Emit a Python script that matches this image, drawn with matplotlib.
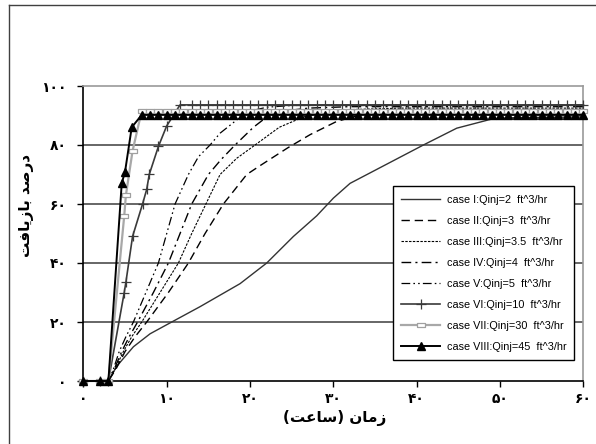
import matplotlib
matplotlib.use("Agg")
import matplotlib.pyplot as plt
from matplotlib.lines import Line2D

# ---------------- data ----------------
x_case1 = [0, 2, 3, 4, 6, 8, 10.6, 14, 18.8, 22, 25.2, 28, 30, 32, 36.4, 40.8, 44.8, 49, 52, 60]
y_case1 = [0, 0, 0, 5, 11.6, 16, 20, 25.2, 33, 40, 49, 56, 62, 67, 73.5, 80, 85.7, 88.8, 89.3, 89.5]

x_case2 = [0, 2, 3, 3.9, 5.0, 6.2, 7.6, 10.2, 12.6, 14.6, 16.8, 19.6, 21.2, 24.5, 27.2, 30.4, 33, 37, 42, 60]
y_case2 = [0, 0, 0, 4, 10, 15, 20, 30, 40, 50, 60, 70, 73, 79, 83.5, 88, 90, 91.3, 92, 92]

x_case3 = [0, 2, 3, 3.8, 4.8, 5.8, 7.0, 9.2, 11.4, 13.0, 14.7, 16.4, 18.4, 20.6, 23.5, 26.4, 29, 32, 38, 60]
y_case3 = [0, 0, 0, 4, 10, 15, 20, 30, 40, 50, 60, 70, 75.5, 80, 86, 89.5, 91.2, 92, 92.5, 92.5]

x_case4 = [0, 2, 3, 3.7, 4.6, 5.5, 6.5, 8.4, 10.2, 11.6, 13.0, 15.0, 16.5, 18.2, 20.4, 22, 24, 27, 32, 60]
y_case4 = [0, 0, 0, 4, 10, 15, 20, 30, 40, 50, 60, 70, 75, 80, 86, 89.5, 91.5, 92.5, 93, 93]

x_case5 = [0, 2, 3, 3.6, 4.3, 5.1, 6.0, 7.5, 9.0, 10.0, 11.0, 12.6, 13.8, 15.2, 16.4, 18.4, 20, 22, 25, 30, 60]
y_case5 = [0, 0, 0, 4, 10, 15, 20, 30, 40, 50, 60, 70, 76, 80, 84, 88.5, 91.5, 92.8, 93.4, 93.5, 93.5]

plateau6 = 93.6
x_case6 = [0, 2, 3, 4.9, 5.1, 5.9, 7.1, 7.6, 7.9, 9.0, 10.0, 11.6] + list(range(13, 61))
y_case6 = [0, 0, 0, 30, 33.5, 49, 60, 65, 70, 79.5, 86.5, plateau6] + [plateau6] * 48

plateau7 = 91.6
x_case7 = [0, 2, 3, 4.9, 5.1, 5.9, 7] + list(range(8, 61))
y_case7 = [0, 0, 0, 56, 63, 78, plateau7] + [plateau7] * 53

plateau8 = 90.2
x_case8 = [0, 2, 3, 4.6, 5.0, 5.8, 7] + list(range(8, 61))
y_case8 = [0, 0, 0, 67, 71, 86, plateau8] + [plateau8] * 53

labels = [
    "case I:Qinj=2  ft^3/hr",
    "case II:Qinj=3  ft^3/hr",
    "case III:Qinj=3.5  ft^3/hr",
    "case IV:Qinj=4  ft^3/hr",
    "case V:Qinj=5  ft^3/hr",
    "case VI:Qinj=10  ft^3/hr",
    "case VII:Qinj=30  ft^3/hr",
    "case VIII:Qinj=45  ft^3/hr",
]

x_ticks = [0, 10, 20, 30, 40, 50, 60]
x_ticklabels = ["۰", "۱۰", "۲۰", "۳۰", "۴۰", "۵۰", "۶۰"]
y_ticks = [0, 20, 40, 60, 80, 100]
y_ticklabels = ["۰", "۲۰", "۴۰", "۶۰", "۸۰", "۱۰۰"]
x_title = "زمان (ساعت)"
y_title = "درصد بازیافت"

# ---------------- simple Arabic/Persian shaping for display ----------------
FORMS = {
    'ا': ('\uFE8D', '\uFE8E', None, None),
    'ب': ('\uFE8F', '\uFE90', '\uFE91', '\uFE92'),
    'ت': ('\uFE95', '\uFE96', '\uFE97', '\uFE98'),
    'د': ('\uFEA9', '\uFEAA', None, None),
    'ر': ('\uFEAD', '\uFEAE', None, None),
    'ز': ('\uFEAF', '\uFEB0', None, None),
    'س': ('\uFEB1', '\uFEB2', '\uFEB3', '\uFEB4'),
    'ص': ('\uFEB9', '\uFEBA', '\uFEBB', '\uFEBC'),
    'ع': ('\uFEC9', '\uFECA', '\uFECB', '\uFECC'),
    'ف': ('\uFED1', '\uFED2', '\uFED3', '\uFED4'),
    'م': ('\uFEE1', '\uFEE2', '\uFEE3', '\uFEE4'),
    'ن': ('\uFEE5', '\uFEE6', '\uFEE7', '\uFEE8'),
    'ی': ('\uFBFC', '\uFBFD', '\uFBFE', '\uFBFF'),
}


def shape(text):
    out = []
    for i, ch in enumerate(text):
        if ch not in FORMS:
            out.append(ch)
            continue
        prev = text[i - 1] if i > 0 else ''
        nxt = text[i + 1] if i + 1 < len(text) else ''
        jp = prev in FORMS and FORMS[prev][2] is not None
        jn = FORMS[ch][2] is not None and nxt in FORMS
        iso, fin, ini, med = FORMS[ch]
        if jp and jn:
            g = med
        elif jp:
            g = fin
        elif jn:
            g = ini
        else:
            g = iso
        out.append(g)
    vis = ''.join(reversed(out))
    return vis.translate(str.maketrans('()', ')('))


# ---------------- figure ----------------
W, H = 596, 444
fig = plt.figure(figsize=(W / 100, H / 100), dpi=100)
ax = fig.add_axes([83.4 / W, 1 - 381 / H, 500 / W, 295 / H])

ax.set_xlim(0, 60)
ax.set_ylim(0, 100)

for yv in y_ticks[1:-1]:
    ax.axhline(yv, color="#5a5a5a", lw=1.3, zorder=1)

rect_marker = [(-1, -0.45), (1, -0.45), (1, 0.45), (-1, 0.45), (-1, -0.45)]

ax.plot(x_case1, y_case1, color="#333333", lw=1.0, label=labels[0], zorder=3)
ax.plot(x_case2, y_case2, color="black", lw=1.0, dashes=(6, 3.5), label=labels[1], zorder=3)
ax.plot(x_case3, y_case3, color="black", lw=0.8, dashes=(2.2, 1.2), label=labels[2], zorder=3)
ax.plot(x_case4, y_case4, color="black", lw=1.0, dashes=(7, 3, 1.5, 3), label=labels[3], zorder=3)
ax.plot(x_case5, y_case5, color="black", lw=0.9, dashes=(7, 2.5, 1.3, 2.5, 1.3, 2.5), label=labels[4], zorder=3)
ax.plot(x_case6, y_case6, color="#3a3a3a", lw=1.2, marker="+", ms=7, mew=0.9,
        label=labels[5], zorder=4, clip_on=False)
ax.plot(x_case7, y_case7, color="#a8a8a8", lw=1.6, marker=rect_marker, ms=6, mew=0.9,
        mfc="white", mec="#a0a0a0", label=labels[6], zorder=4, clip_on=False)
ax.plot(x_case8, y_case8, color="black", lw=1.4, marker="^", ms=5.5, mec="black",
        mfc="black", label=labels[7], zorder=5, clip_on=False)

# spines
for s in ["left", "bottom"]:
    ax.spines[s].set_color("black")
    ax.spines[s].set_linewidth(1.2)
for s in ["top", "right"]:
    ax.spines[s].set_color("#9a9a9a")
    ax.spines[s].set_linewidth(1.2)

ax.set_xticks(x_ticks)
ax.set_xticklabels(x_ticklabels)
ax.set_yticks(y_ticks)
ax.set_yticklabels(y_ticklabels)
ax.tick_params(axis="both", direction="out", length=4, width=1, color="black")
ax.tick_params(axis="x", pad=4)
ax.tick_params(axis="y", pad=8)
for lab in ax.get_xticklabels() + ax.get_yticklabels():
    lab.set_fontfamily("DejaVu Sans")
    lab.set_fontweight("bold")
    lab.set_fontsize(10)

fig.text(335 / W, 1 - 418 / H, shape(x_title), ha="center", va="center",
         fontsize=11, fontweight="bold", family="DejaVu Sans")
fig.text(27 / W, 1 - 205 / H, shape(y_title), ha="center", va="center",
         rotation=90, fontsize=11, fontweight="bold", family="DejaVu Sans")

leg = ax.legend(loc="lower left", bbox_to_anchor=(0.619, 0.071), fancybox=False,
                framealpha=1, edgecolor="black", handlelength=3.6, handletextpad=0.6,
                labelspacing=1.02, borderpad=0.75, borderaxespad=0,
                prop={"family": "Liberation Sans", "size": 7.8})
leg.get_frame().set_linewidth(1.0)
leg.set_zorder(10)

# outer frame (left and top edges visible in the reference)
fig.add_artist(Line2D([9 / W, 9 / W], [0, 1 - 5 / H], color="#404040", lw=1.0,
                      transform=fig.transFigure))
fig.add_artist(Line2D([9 / W, 1], [1 - 5 / H, 1 - 5 / H], color="#404040", lw=1.0,
                      transform=fig.transFigure))

fig.savefig("out.png", dpi=100)
